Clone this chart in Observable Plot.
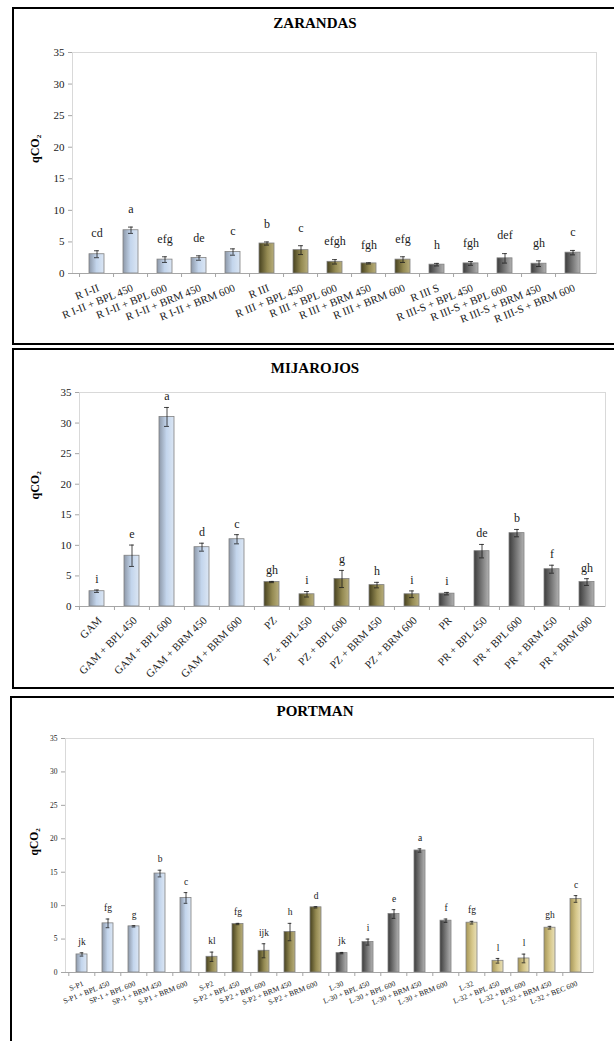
<!DOCTYPE html>
<html>
<head>
<meta charset="utf-8">
<script src="https://cdn.jsdelivr.net/npm/d3@7"></script>
<script src="https://cdn.jsdelivr.net/npm/@observablehq/plot@0.6"></script>
<style>
  html, body { margin: 0; padding: 0; background: #fff; }
  body { width: 614px; height: 1041px; overflow: hidden; position: relative; font-family: "Liberation Serif", "Times New Roman", serif; }
  .panel { position: absolute; border: 2.5px solid #000; box-sizing: border-box; }
  .title { position: absolute; width: 240px; text-align: center; font-weight: bold; font-size: 15px; color: #000; font-family: "Liberation Serif", serif; }
  .chart { position: absolute; left: 0; }
</style>
</head>
<body>
<svg width="0" height="0" style="position:absolute;left:0;top:0">
  <defs>
    <linearGradient id="gBlue" x1="0" x2="1" y1="0" y2="0">
      <stop offset="0" stop-color="#8d98a8"/>
      <stop offset="0.5" stop-color="#c3d5ec"/>
      <stop offset="1" stop-color="#dbe6f4"/>
    </linearGradient>
    <linearGradient id="gOlive" x1="0" x2="1" y1="0" y2="0">
      <stop offset="0" stop-color="#46411f"/>
      <stop offset="0.55" stop-color="#948a52"/>
      <stop offset="1" stop-color="#b8ae7c"/>
    </linearGradient>
    <linearGradient id="gGray" x1="0" x2="1" y1="0" y2="0">
      <stop offset="0" stop-color="#3c3c3c"/>
      <stop offset="0.55" stop-color="#7d7d7d"/>
      <stop offset="1" stop-color="#b2b2b2"/>
    </linearGradient>
    <linearGradient id="gTan" x1="0" x2="1" y1="0" y2="0">
      <stop offset="0" stop-color="#a69657"/>
      <stop offset="0.55" stop-color="#d6c78a"/>
      <stop offset="1" stop-color="#e9e0b8"/>
    </linearGradient>
  </defs>
</svg>

<div class="panel" style="left:12px;top:7px;width:606px;height:338px"></div>
<div class="panel" style="left:12px;top:348px;width:606px;height:341px"></div>
<div class="panel" style="left:10px;top:696px;width:608px;height:360px"></div>

<div class="title" style="left:195px;top:15px">ZARANDAS</div>
<div class="title" style="left:195px;top:360px">MIJAROJOS</div>
<div class="title" style="left:195px;top:703px">PORTMAN</div>

<div id="c1" class="chart" style="top:40px"></div>
<div id="c2" class="chart" style="top:380px"></div>
<div id="c3" class="chart" style="top:726px"></div>

<script>
// ---------------- DATA ----------------
// ZARANDAS
const zarCats = ["R I-II", "R I-II + BPL 450", "R I-II + BPL 600", "R I-II + BRM 450", "R I-II + BRM 600",
  "R III", "R III + BPL 450", "R III + BPL 600", "R III + BRM 450", "R III + BRM 600",
  "R III S", "R III-S + BPL 450", "R III-S + BPL 600", "R III-S + BRM 450", "R III-S + BRM 600"];
const zarVals = [3.05, 6.85, 2.2, 2.45, 3.4, 4.75, 3.7, 1.85, 1.6, 2.2, 1.4, 1.6, 2.4, 1.55, 3.3];
const zarErrs = [0.55, 0.5, 0.45, 0.35, 0.5, 0.25, 0.7, 0.35, 0.1, 0.45, 0.2, 0.3, 0.75, 0.45, 0.35];
const zarLetters = ["cd", "a", "efg", "de", "c", "b", "c", "efgh", "fgh", "efg", "h", "fgh", "def", "gh", "c"];
const zarGroups = ["R I-II", "R I-II", "R I-II", "R I-II", "R I-II",
  "R III", "R III", "R III", "R III", "R III",
  "R III S", "R III S", "R III S", "R III S", "R III S"];

// MIJAROJOS
const mijCats = ["GAM", "GAM + BPL 450", "GAM + BPL 600", "GAM + BRM 450", "GAM + BRM 600",
  "PZ", "PZ + BPL 450", "PZ + BPL 600", "PZ + BRM 450", "PZ + BRM 600",
  "PR", "PR + BPL 450", "PR + BPL 600", "PR + BRM 450", "PR + BRM 600"];
const mijVals = [2.5, 8.3, 31.0, 9.7, 11.0, 4.0, 2.0, 4.5, 3.5, 2.0, 2.1, 9.05, 12.0, 6.1, 4.0];
const mijErrs = [0.2, 1.75, 1.55, 0.65, 0.75, 0.1, 0.45, 1.4, 0.45, 0.55, 0.2, 1.1, 0.6, 0.65, 0.55];
const mijLetters = ["i", "e", "a", "d", "c", "gh", "i", "g", "h", "i", "i", "de", "b", "f", "gh"];
const mijGroups = ["GAM", "GAM", "GAM", "GAM", "GAM", "PZ", "PZ", "PZ", "PZ", "PZ", "PR", "PR", "PR", "PR", "PR"];

// PORTMAN
const porCats = ["S-P1", "S-P1 + BPL 450", "SP-1 + BPL 600", "SP-1 + BRM 450", "S-P1 + BRM 600",
  "S-P2", "S-P2 + BPL 450", "S-P2 + BPL 600", "S-P2 + BRM 450", "S-P2 + BRM 600",
  "L-30", "L-30 + BPL 450", "L-30 + BPL 600", "L-30 + BRM 450", "L-30 + BRM 600",
  "L-32", "L-32 + BPL 450", "L-32 + BPL 600", "L-32 + BRM 450", "L-32 + BEC 600"];
const porVals = [2.7, 7.35, 6.9, 14.8, 11.15, 2.35, 7.25, 3.25, 6.05, 9.75, 2.9, 4.55, 8.75, 18.25, 7.75, 7.45, 1.75, 2.1, 6.7, 11.0];
const porErrs = [0.25, 0.65, 0.1, 0.5, 0.8, 0.7, 0.1, 1.05, 1.3, 0.1, 0.1, 0.45, 0.65, 0.25, 0.25, 0.2, 0.35, 0.65, 0.2, 0.5];
const porLetters = ["jk", "fg", "g", "b", "c", "kl", "fg", "ijk", "h", "d", "jk", "i", "e", "a", "f", "fg", "l", "l", "gh", "c"];
const porGroups = ["S-P1", "S-P1", "S-P1", "S-P1", "S-P1", "S-P2", "S-P2", "S-P2", "S-P2", "S-P2",
  "L-30", "L-30", "L-30", "L-30", "L-30", "L-32", "L-32", "L-32", "L-32", "L-32"];

const yTicks = [0, 5, 10, 15, 20, 25, 30, 35];
const fills = ["url(#gBlue)", "url(#gOlive)", "url(#gGray)", "url(#gTan)"];

// ---------------- CHART ----------------
function makePanel(o) {
  const data = o.cats.map((c, i) => ({cat: c, v: o.vals[i], e: o.errs[i], L: o.letters[i], g: o.groups[i]}));
  const groupDomain = Array.from(new Set(o.groups));
  const W = 614, pad = 0.57;
  const step = (W - o.mL - o.mR) / o.cats.length;
  const bw = step * (1 - pad);
  const capIn = Math.max(0, (bw - o.cap) / 2);
  const ink = "#1a1a1a";
  return Plot.plot({
    width: W, height: o.height,
    marginLeft: o.mL, marginRight: o.mR, marginTop: o.mT, marginBottom: o.mB,
    style: {fontFamily: "'Liberation Serif', 'Times New Roman', serif", background: "transparent", overflow: "visible", color: ink},
    x: {type: "band", domain: o.cats, paddingInner: pad, paddingOuter: pad / 2, label: null},
    y: {domain: [0, 35], label: null},
    color: {type: "ordinal", domain: groupDomain, range: fills.slice(0, groupDomain.length)},
    marks: [
      Plot.frame({stroke: "#d9d9d9"}),
      Plot.axisY(yTicks, {tickSize: 4, tickPadding: 4, fontSize: o.tickFont, stroke: "#a6a6a6", fill: ink, label: null}),
      Plot.barY(data, {x: "cat", y: "v", fill: "g", stroke: "#808080", strokeWidth: 0.8}),
      Plot.ruleY([0], {stroke: "#a6a6a6"}),
      Plot.ruleX(data, {x: "cat", y1: d => d.v - d.e, y2: d => d.v + d.e, stroke: ink, strokeWidth: 0.8}),
      Plot.tickY(data, {x: "cat", y: d => d.v + d.e, insetLeft: capIn, insetRight: capIn, stroke: ink, strokeWidth: 0.8}),
      Plot.tickY(data, {x: "cat", y: d => d.v - d.e, insetLeft: capIn, insetRight: capIn, stroke: ink, strokeWidth: 0.8}),
      Plot.text(data, {x: "cat", y: d => d.v + d.e, text: "L", dy: o.letterDy, fontSize: o.letterFont, fill: ink}),
      Plot.axisX({tickSize: 0, tickRotate: o.rotate, tickPadding: o.xPad, fontSize: o.xFont, textAnchor: "end", lineAnchor: "top", fill: ink, label: null}),
      Plot.axisX({tickSize: 4, tickFormat: () => "", dx: -step / 2, stroke: "#a6a6a6", label: null}),
      Plot.text(["qCO₂"], {frameAnchor: "left", rotate: -90, dx: o.ylabDx, fontWeight: "bold", fontSize: o.ylabFont, fill: "#000"})
    ]
  });
}

document.getElementById("c1").append(makePanel({
  cats: zarCats, vals: zarVals, errs: zarErrs, letters: zarLetters, groups: zarGroups,
  height: 300, mL: 72, mR: 18, mT: 12, mB: 67,
  tickFont: 11, xFont: 11, letterFont: 12, ylabFont: 12, rotate: -22, xPad: 10, letterDy: -18, ylabDx: -37, cap: 5
}));

document.getElementById("c2").append(makePanel({
  cats: mijCats, vals: mijVals, errs: mijErrs, letters: mijLetters, groups: mijGroups,
  height: 305, mL: 79, mR: 9, mT: 12, mB: 79,
  tickFont: 11, xFont: 11, letterFont: 12, ylabFont: 12, rotate: -45, xPad: 9, letterDy: -11, ylabDx: -44, cap: 5
}));

document.getElementById("c3").append(makePanel({
  cats: porCats, vals: porVals, errs: porErrs, letters: porLetters, groups: porGroups,
  height: 315, mL: 65, mR: 21, mT: 12, mB: 69,
  tickFont: 7.5, xFont: 7.5, letterFont: 9.5, ylabFont: 11.5, rotate: -22, xPad: 8, letterDy: -11, ylabDx: -31, cap: 4
}));
</script>
</body>
</html>
